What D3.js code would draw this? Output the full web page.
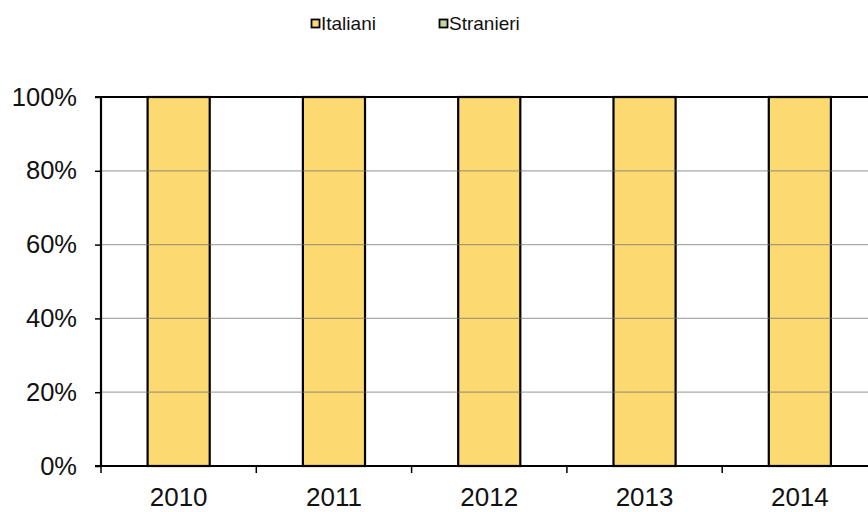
<!DOCTYPE html>
<html><head><meta charset="utf-8">
<script src="https://cdn.jsdelivr.net/npm/d3@7"></script>
<style>body{margin:0;background:#fff;} svg{display:block;font-family:"Liberation Sans",Arial,sans-serif;}</style>
</head><body>
<svg id="c" width="868" height="512"></svg>
<script>
const years = ["2010","2011","2012","2013","2014"];
const italiani = [100,100,100,100,100];
const stranieri = [0,0,0,0,0];
const yTicks = [0,20,40,60,80,100];
const seriesNames = ["Italiani","Stranieri"];
const colors = ["#FDD971","#C3D69B"];

const svg = d3.select("#c");
const pLeft = 101, pTop = 97, pBottom = 466, bandW = 155.3;
const x = d3.scaleBand().domain(years).range([pLeft, pLeft + bandW*years.length]).paddingInner(0.6).paddingOuter(0.3);
const xb = d3.scaleBand().domain(years).range([pLeft, pLeft + bandW*years.length]);
const y = d3.scaleLinear().domain([0,100]).range([pBottom, pTop]);

const stack = d3.stack().keys(["it","st"])(years.map((yr,i)=>({yr, it:italiani[i], st:stranieri[i]})));

// bars
stack.forEach((layer,li)=>{
  svg.append("g").selectAll("rect").data(layer).join("rect")
    .attr("x", d=>x(d.data.yr)).attr("width", x.bandwidth())
    .attr("y", d=>y(d[1])).attr("height", d=>y(d[0])-y(d[1]))
    .attr("fill", colors[li]).attr("stroke", "#000").attr("stroke-width", 2.2)
    .style("display", d=>d[1]-d[0]>0?null:"none");
});

// gridlines (over bars, translucent)
svg.append("g").selectAll("line").data(yTicks.filter(t=>t>0&&t<100)).join("line")
  .attr("x1", pLeft).attr("x2", 868).attr("y1", d=>y(d)).attr("y2", d=>y(d))
  .attr("stroke", "#707070").attr("stroke-opacity", 0.6).attr("stroke-width", 1.2);

// top border
svg.append("line").attr("x1", pLeft).attr("x2", 868).attr("y1", y(100)).attr("y2", y(100))
  .attr("stroke", "#000").attr("stroke-width", 2.2);

// y axis
const ya = svg.append("g").attr("transform", `translate(${pLeft},0)`)
  .call(d3.axisLeft(y).tickValues(yTicks).tickFormat(d=>d+"%").tickSize(6).tickPadding(18));
ya.select(".domain").attr("stroke", "#000").attr("stroke-width", 2.2).attr("d", `M-6,${pTop}H0V${pBottom}H-6`);
ya.selectAll(".tick line").attr("stroke", "#000").attr("stroke-width", 1.5);
ya.selectAll(".tick text").attr("font-size", 25.5).attr("fill", "#111").attr("font-family", "Liberation Sans, Arial, sans-serif");

// x axis
const xa = svg.append("g").attr("transform", `translate(0,${pBottom})`)
  .call(d3.axisBottom(xb).tickSize(0).tickPadding(22));
xa.select(".domain").remove();
xa.append("line").attr("x1", pLeft).attr("x2", 868).attr("stroke", "#000").attr("stroke-width", 2.2);
xa.selectAll(".tick text").attr("font-size", 26).attr("fill", "#111").attr("font-family", "Liberation Sans, Arial, sans-serif");
const bounds = years.map(yr=>xb(yr)).concat([pLeft + bandW*years.length]);
xa.append("g").selectAll("line").data(bounds).join("line")
  .attr("x1", d=>d).attr("x2", d=>d).attr("y1", 0).attr("y2", 7)
  .attr("stroke", "#000").attr("stroke-width", 1.5);

// legend
const lg = svg.append("g");
const lx = [311, 439];
seriesNames.forEach((n,i)=>{
  lg.append("rect").attr("x", lx[i]+0.5).attr("y", 19.5).attr("width", 8).attr("height", 8)
    .attr("fill", colors[i]).attr("stroke", "#000").attr("stroke-width", 1.8);
  lg.append("text").attr("x", lx[i]+10).attr("y", 30).attr("font-size", 19).attr("fill", "#111").text(n);
});
</script>
</body></html>
